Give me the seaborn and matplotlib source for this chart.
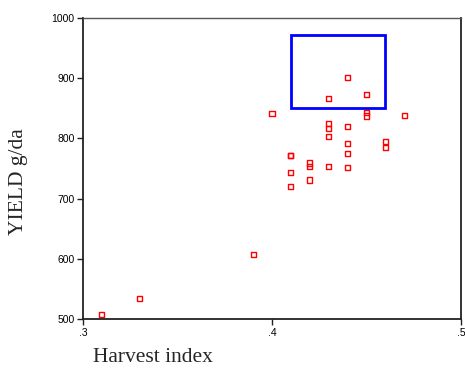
import matplotlib
matplotlib.use("Agg")
import matplotlib.pyplot as plt
import seaborn as sns
import pandas as pd
from matplotlib.patches import Rectangle

harvest_index = [0.44, 0.45, 0.43, 0.40, 0.45, 0.45, 0.47, 0.43, 0.43, 0.44, 0.43,
                 0.44, 0.46, 0.46, 0.44, 0.41, 0.41, 0.42, 0.42, 0.43, 0.44, 0.41,
                 0.42, 0.41, 0.39, 0.33, 0.31]
yield_gda = [901, 873, 866, 841, 843, 837, 838, 824, 816, 819, 803,
             791, 795, 785, 775, 771, 771, 759, 753, 753, 751, 744,
             731, 720, 607, 534, 508]
x_ticks = [0.3, 0.4, 0.5]
x_tick_labels = [".3", ".4", ".5"]
y_ticks = [500, 600, 700, 800, 900, 1000]
highlight_box = {"x0": 0.41, "x1": 0.46, "y0": 851, "y1": 971}

df = pd.DataFrame({"Harvest index": harvest_index, "YIELD g/da": yield_gda})

sns.set_style("white")
fig = plt.figure(figsize=(4.65, 3.68), dpi=100)
ax = fig.add_axes([83 / 465, 1 - 319.3 / 368, (461 - 83) / 465, (319.3 - 17.7) / 368])

sns.scatterplot(data=df, x="Harvest index", y="YIELD g/da", ax=ax, marker="s",
                s=14, facecolor="none", edgecolor="#ff0000", linewidth=1.0, legend=False)

ax.add_patch(Rectangle((highlight_box["x0"], highlight_box["y0"]),
                       highlight_box["x1"] - highlight_box["x0"],
                       highlight_box["y1"] - highlight_box["y0"],
                       fill=False, edgecolor="#0000ff", linewidth=2.0, zorder=3))

ax.set_xlim(0.3, 0.5)
ax.set_ylim(500, 1000)
ax.set_xticks(x_ticks)
ax.set_xticklabels(x_tick_labels)
ax.set_yticks(y_ticks)
ax.tick_params(axis="both", direction="out", length=4, width=1, color="#222222",
               labelsize=7.5, labelcolor="black", pad=2, left=True, bottom=True)
for lab in ax.get_xticklabels() + ax.get_yticklabels():
    lab.set_family(["Liberation Sans", "DejaVu Sans"])
ax.set_xlabel("")
ax.set_ylabel("")
for side in ["left", "bottom", "right"]:
    ax.spines[side].set_color("#222222")
    ax.spines[side].set_linewidth(1.3)
ax.spines["top"].set_color("#555555")
ax.spines["top"].set_linewidth(1.0)

fig.text(93 / 465, 1 - 362 / 368, "Harvest index", ha="left", va="baseline",
         fontsize=15.5, family=["Liberation Serif", "DejaVu Serif"])
fig.text(18 / 465, 1 - 182 / 368, "YIELD g/da", ha="center", va="center", rotation=90,
         fontsize=15.5, family=["Liberation Serif", "DejaVu Serif"])

fig.savefig("out.png", dpi=100)
